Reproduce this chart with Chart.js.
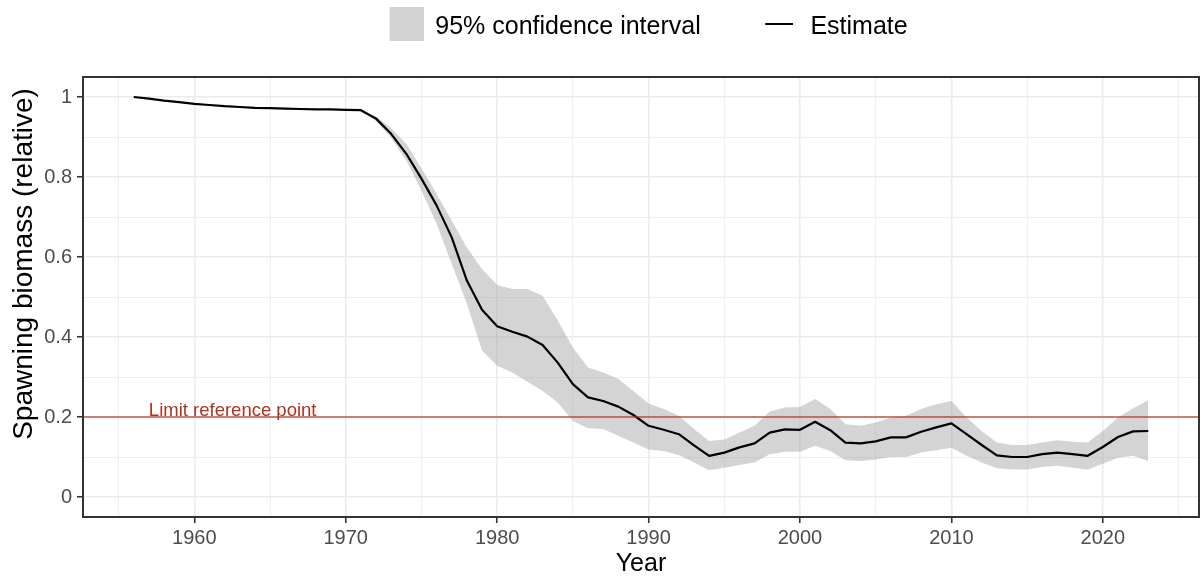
<!DOCTYPE html>
<html>
<head>
<meta charset="utf-8">
<script src="https://cdn.jsdelivr.net/npm/chart.js@4.4.1/dist/chart.umd.min.js"></script>
<style>
  html, body { margin: 0; padding: 0; background: #ffffff; }
  #wrap { position: relative; width: 1203px; height: 578px; }
</style>
</head>
<body>
<div id="wrap"><canvas id="chart"></canvas></div>
<script>
// Relative spawning biomass, 1956-2023
const years = [
  1956, 1957, 1958, 1959, 1960, 1961, 1962, 1963, 1964, 1965, 1966, 1967, 1968, 1969, 1970, 1971,
  1972, 1973, 1974, 1975, 1976, 1977, 1978, 1979, 1980, 1981, 1982, 1983, 1984, 1985, 1986, 1987,
  1988, 1989, 1990, 1991, 1992, 1993, 1994, 1995, 1996, 1997, 1998, 1999, 2000, 2001, 2002, 2003,
  2004, 2005, 2006, 2007, 2008, 2009, 2010, 2011, 2012, 2013, 2014, 2015, 2016, 2017, 2018, 2019,
  2020, 2021, 2022, 2023
];
const estimate = [
  1.000, 0.996, 0.991, 0.987, 0.983, 0.980, 0.977, 0.975, 0.973, 0.972, 0.971, 0.970, 0.969, 0.969, 0.968, 0.967,
  0.946, 0.908, 0.858, 0.796, 0.729, 0.649, 0.541, 0.468, 0.427, 0.413, 0.401, 0.380, 0.336, 0.282, 0.249, 0.240,
  0.226, 0.205, 0.178, 0.168, 0.157, 0.129, 0.103, 0.111, 0.124, 0.134, 0.161, 0.169, 0.168, 0.188, 0.167, 0.136,
  0.134, 0.139, 0.149, 0.149, 0.163, 0.174, 0.184, 0.157, 0.130, 0.104, 0.100, 0.100, 0.107, 0.111, 0.107, 0.103,
  0.125, 0.150, 0.164, 0.165
];
const upper95 = [
  1.000, 0.996, 0.991, 0.987, 0.983, 0.980, 0.977, 0.975, 0.973, 0.972, 0.971, 0.970, 0.969, 0.969, 0.968, 0.968,
  0.952, 0.922, 0.883, 0.822, 0.758, 0.691, 0.624, 0.570, 0.530, 0.520, 0.520, 0.503, 0.441, 0.374, 0.324, 0.311,
  0.295, 0.265, 0.234, 0.220, 0.203, 0.170, 0.140, 0.144, 0.161, 0.178, 0.214, 0.224, 0.225, 0.245, 0.220, 0.182,
  0.178, 0.186, 0.199, 0.203, 0.220, 0.232, 0.240, 0.199, 0.165, 0.136, 0.130, 0.130, 0.136, 0.142, 0.138, 0.136,
  0.165, 0.199, 0.222, 0.242
];
const lower95 = [
  1.000, 0.996, 0.991, 0.987, 0.983, 0.980, 0.977, 0.975, 0.973, 0.972, 0.971, 0.970, 0.969, 0.969, 0.968, 0.966,
  0.940, 0.898, 0.841, 0.766, 0.683, 0.583, 0.483, 0.366, 0.328, 0.311, 0.288, 0.265, 0.236, 0.190, 0.172, 0.170,
  0.153, 0.136, 0.119, 0.115, 0.105, 0.086, 0.067, 0.073, 0.080, 0.086, 0.107, 0.113, 0.113, 0.128, 0.115, 0.092,
  0.090, 0.094, 0.100, 0.100, 0.111, 0.117, 0.123, 0.103, 0.086, 0.072, 0.069, 0.069, 0.075, 0.078, 0.073, 0.069,
  0.083, 0.098, 0.103, 0.090
];

// Limit reference point and its label
const limitRef = 0.2;
const limitLabel = 'Limit reference point';
const limitLabelYear = 1957;

// Axis ticks (labelled) and the minor grid between them
const xTickYears = [1960, 1970, 1980, 1990, 2000, 2010, 2020];
const xMinorYears = [1955, 1965, 1975, 1985, 1995, 2005, 2015, 2025];
const yTickValues = [0, 0.2, 0.4, 0.6, 0.8, 1];
const yTickLabels = ['0', '0.2', '0.4', '0.6', '0.8', '1'];
const yMinorValues = [0.1, 0.3, 0.5, 0.7, 0.9];

const seriesNames = ['95% confidence interval', 'Estimate'];
const xTitle = 'Year';
const yTitle = 'Spawning biomass (relative)';

const FONT = "'Liberation Sans', Arial, Helvetica, sans-serif";
const BAND_FILL = 'rgba(160,160,160,0.45)';
const GRID = '#EBEBEB';
const INK = '#333333';
const LEGEND_GAP = 27;

// Legend keys as small canvases: a filled square and a short line,
// both sitting a little above the text's middle line
function makeKey(w, h, draw) {
  const c = document.createElement('canvas');
  c.width = w; c.height = h;
  draw(c.getContext('2d'));
  return c;
}
const bandKey = makeKey(50, 41, g => { g.fillStyle = '#D3D3D3'; g.fillRect(16, 0, 34, 34); });
const lineKey = makeKey(39, 11, g => { g.fillStyle = '#000000'; g.fillRect(11, 1, 28, 2); });

const toPoints = arr => years.map((yr, i) => ({ x: yr, y: arr[i] }));

const isMajorX = v => xTickYears.includes(v);
const isMajorY = v => yTickValues.some(t => Math.abs(t - v) < 1e-9);

// Extra space between the legend row and the plotting panel
const legendGapPlugin = {
  id: 'legendGap',
  beforeUpdate(chart) {
    const lg = chart.legend;
    if (lg && !lg.$gapWrapped) {
      const fit = lg.fit;
      lg.fit = function () { fit.call(this); this.height += LEGEND_GAP; };
      lg.$gapWrapped = true;
    }
  }
};

// Reference line, its label, the panel frame and the y-axis title
const panelPlugin = {
  id: 'panel',
  afterDatasetsDraw(chart) {
    const { ctx, chartArea: a, scales: { x, y } } = chart;
    const py = y.getPixelForValue(limitRef);
    ctx.save();
    ctx.beginPath();
    ctx.rect(a.left, a.top, a.right - a.left, a.bottom - a.top);
    ctx.clip();
    ctx.strokeStyle = 'rgba(178,52,30,0.6)';
    ctx.lineWidth = 2;
    ctx.beginPath();
    ctx.moveTo(a.left, py);
    ctx.lineTo(a.right, py);
    ctx.stroke();
    ctx.fillStyle = '#B2341E';
    ctx.font = '18.5px ' + FONT;
    ctx.textAlign = 'left';
    ctx.textBaseline = 'alphabetic';
    ctx.fillText(limitLabel, x.getPixelForValue(limitLabelYear), py - 1);
    ctx.restore();

    ctx.save();
    ctx.strokeStyle = INK;
    ctx.lineWidth = 2;
    ctx.strokeRect(a.left, a.top, a.right - a.left, a.bottom - a.top);
    ctx.restore();

    ctx.save();
    ctx.translate(y.left + 24, a.top + 187);
    ctx.rotate(-Math.PI / 2);
    ctx.fillStyle = '#000000';
    ctx.font = '28px ' + FONT;
    ctx.textAlign = 'center';
    ctx.textBaseline = 'middle';
    ctx.fillText(yTitle, 0, 0);
    ctx.restore();
  }
};

new Chart(document.getElementById('chart'), {
  type: 'line',
  data: {
    datasets: [
      {
        label: 'upper',
        data: toPoints(upper95),
        borderWidth: 0,
        pointRadius: 0,
        backgroundColor: BAND_FILL,
        fill: '+1',
        order: 2
      },
      {
        label: 'lower',
        data: toPoints(lower95),
        borderWidth: 0,
        pointRadius: 0,
        fill: false,
        order: 3
      },
      {
        label: seriesNames[1],
        data: toPoints(estimate),
        borderColor: '#000000',
        borderWidth: 2.2,
        borderJoinStyle: 'round',
        pointRadius: 0,
        fill: false,
        order: 0
      }
    ]
  },
  options: {
    responsive: true,
    maintainAspectRatio: false,
    animation: false,
    devicePixelRatio: 1,
    layout: { padding: { top: -33.7, right: 4, bottom: 0, left: 0 } },
    plugins: {
      tooltip: { enabled: false },
      legend: {
        position: 'top',
        fullSize: false,
        onClick: null,
        labels: {
          usePointStyle: true,
          pointStyleWidth: 48.5,
          padding: 48.7,
          color: '#000000',
          font: { family: FONT, size: 25 },
          generateLabels: () => [
            { text: seriesNames[0], pointStyle: bandKey, fillStyle: '#D3D3D3', strokeStyle: 'rgba(0,0,0,0)', lineWidth: 0, hidden: false, fontColor: '#000000' },
            { text: seriesNames[1], pointStyle: lineKey, fillStyle: '#000000', strokeStyle: 'rgba(0,0,0,0)', lineWidth: 0, hidden: false, fontColor: '#000000' }
          ]
        }
      }
    },
    scales: {
      x: {
        type: 'linear',
        min: 1952.65,
        max: 2026.35,
        afterBuildTicks: s => {
          s.ticks = [...xTickYears, ...xMinorYears].sort((a, b) => a - b).map(v => ({ value: v }));
        },
        afterFit: s => { s.height = 61; },
        border: { display: false },
        grid: {
          color: GRID,
          lineWidth: c => (c.tick && isMajorX(c.tick.value)) ? 1.5 : 0.8,
          drawTicks: true,
          tickLength: 6,
          tickWidth: 1.6,
          tickColor: c => (c.tick && isMajorX(c.tick.value)) ? INK : 'rgba(0,0,0,0)'
        },
        ticks: {
          autoSkip: false,
          maxRotation: 0,
          padding: 3,
          color: '#4D4D4D',
          font: { family: FONT, size: 20 },
          callback: v => isMajorX(v) ? String(v) : ''
        },
        title: {
          display: true,
          text: xTitle,
          color: '#000000',
          font: { family: FONT, size: 25, lineHeight: 1 },
          padding: { top: 0, bottom: 1 }
        }
      },
      y: {
        type: 'linear',
        min: -0.05,
        max: 1.05,
        afterBuildTicks: s => {
          s.ticks = [...yTickValues, ...yMinorValues].sort((a, b) => a - b).map(v => ({ value: v }));
        },
        afterFit: s => { s.width = 83; },
        border: { display: false },
        grid: {
          color: GRID,
          lineWidth: c => (c.tick && isMajorY(c.tick.value)) ? 1.5 : 0.8,
          drawTicks: true,
          tickLength: 6,
          tickWidth: 1.6,
          tickColor: c => (c.tick && isMajorY(c.tick.value)) ? INK : 'rgba(0,0,0,0)'
        },
        ticks: {
          autoSkip: false,
          padding: 5,
          color: '#4D4D4D',
          font: { family: FONT, size: 20 },
          callback: v => {
            const i = yTickValues.findIndex(t => Math.abs(t - v) < 1e-9);
            return i >= 0 ? yTickLabels[i] : '';
          }
        },
        title: { display: false }
      }
    }
  },
  plugins: [legendGapPlugin, panelPlugin]
});
</script>
</body>
</html>
